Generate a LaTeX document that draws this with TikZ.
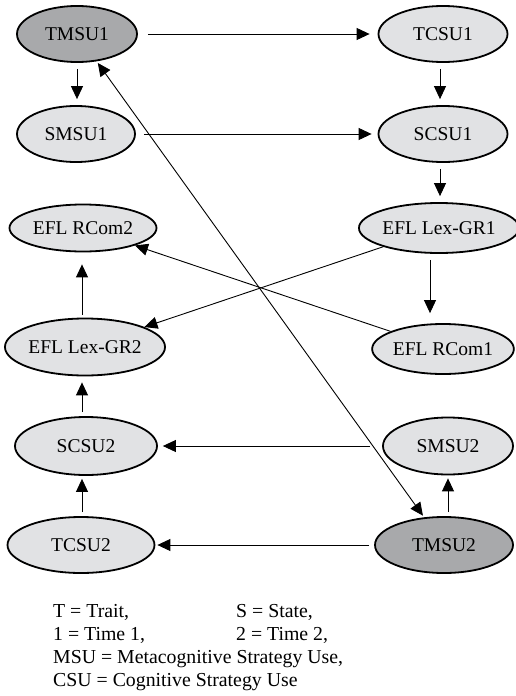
\documentclass[tikz,border=0pt]{standalone}
\usepackage{fontspec}
\setmainfont{Liberation Serif}
\usetikzlibrary{shapes.geometric,arrows.meta}
\definecolor{lightfill}{RGB}{225,226,228}
\definecolor{darkfill}{RGB}{168,169,171}
\begin{document}
\begin{tikzpicture}[x=1pt,y=-1pt,
  var/.style={ellipse,draw=black,line width=1.8pt,fill=lightfill,inner sep=0pt,
    font=\fontsize{19.5}{23}\selectfont},
  trait/.style={var,fill=darkfill},
  link/.style={line width=0.9pt,-{Triangle[length=13pt,width=12pt]},shorten <=6pt,shorten >=6pt},
  legend/.style={anchor=base west,inner sep=0pt,font=\fontsize{19.8}{23}\selectfont}]
\useasboundingbox (0,0) rectangle (515,696);

% latent variables, time 1
\node[trait,minimum width=120pt,minimum height=56pt] (tmsu1) at (77,34) {TMSU1};
\node[var,minimum width=129pt,minimum height=56pt] (tcsu1) at (443,34) {TCSU1};
\node[var,minimum width=118pt,minimum height=56pt] (smsu1) at (76,134) {SMSU1};
\node[var,minimum width=129pt,minimum height=56pt] (scsu1) at (443,134) {SCSU1};
% outcomes
\node[var,minimum width=147pt,minimum height=47pt] (rcom2) at (83,228) {EFL RCom2};
\node[var,minimum width=129pt,minimum height=50pt] (lex1) at (439,228) {EFL Lex-GR1};
\node[var,minimum width=134pt,minimum height=57pt] (lex2) at (85,347) {EFL Lex-GR2};
\node[var,minimum width=125pt,minimum height=50pt] (rcom1) at (443,349) {EFL RCom1};
% latent variables, time 2
\node[var,minimum width=142pt,minimum height=58pt] (scsu2) at (86,446) {SCSU2};
\node[var,minimum width=130pt,minimum height=57pt] (smsu2) at (448,446) {SMSU2};
\node[var,minimum width=147pt,minimum height=56pt] (tcsu2) at (81,545) {TCSU2};
\node[trait,minimum width=138pt,minimum height=56pt] (tmsu2) at (444,545) {TMSU2};

% paths
\draw[link,shorten <=10pt,shorten >=8pt] (tmsu1) -- (tcsu1);
\draw[link] (tmsu1.south -| 77,0) -- (smsu1.north -| 77,0);
\draw[link] (tcsu1.south -| 440,0) -- (scsu1.north -| 440,0);
\draw[link,shorten <=8pt] (smsu1) -- (scsu1);
\draw[link] (scsu1.south -| 440,0) -- (lex1.north -| 440,0);
\draw[link,shorten >=10pt] (lex1.south -| 430,0) -- (rcom1.north -| 430,0);
\draw[link,shorten <=0pt,shorten >=0pt] (lex1) -- (lex2);
\draw[link,shorten <=0pt,shorten >=0pt] (rcom1) -- (rcom2);
\draw[link,shorten <=3pt,shorten >=12pt] (lex2.north -| 82,0) -- (rcom2.south -| 82,0);
\draw[link,shorten <=4pt] (scsu2.north -| 82,0) -- (lex2.south -| 82,0);
\draw[link,shorten <=12pt,shorten >=5pt] (smsu2) -- (scsu2);
\draw[link,shorten <=4pt,shorten >=3pt] (tmsu2.north -| 448,0) -- (smsu2.south -| 448,0);
\draw[link,shorten <=4pt,shorten >=3pt] (tcsu2.north -| 82,0) -- (scsu2.south -| 82,0);
\draw[link,shorten <=5pt,shorten >=2pt] (tmsu2) -- (tcsu2);
\draw[link,{Triangle[length=13pt,width=12pt]}-{Triangle[length=13pt,width=12pt]},shorten <=2pt,shorten >=2pt] (tmsu1) -- (tmsu2);

% key
\node[legend] (k1) at (53,617) {T = Trait,};
\node[legend] (k2) at (236,617) {S = State,};
\node[legend] (k3) at (53,640) {1 = Time 1,};
\node[legend] (k4) at (236,640) {2 = Time 2,};
\node[legend] (k5) at (53,663) {MSU = Metacognitive Strategy Use,};
\node[legend] (k6) at (53,686) {CSU = Cognitive Strategy Use};
\end{tikzpicture}
\end{document}
